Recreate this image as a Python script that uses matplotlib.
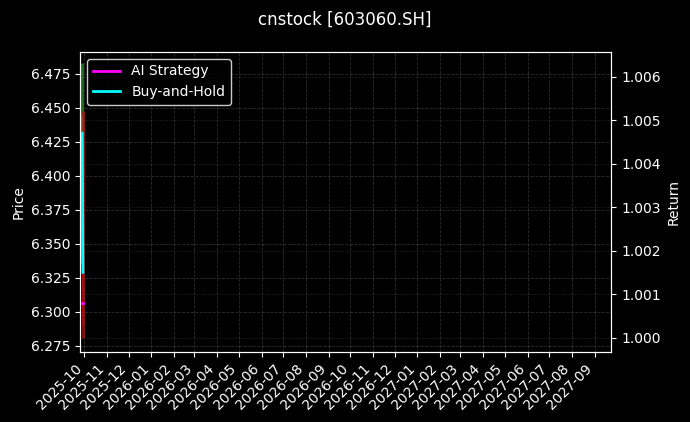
import matplotlib
matplotlib.use('Agg')
import matplotlib.pyplot as plt
import matplotlib.dates as mdates
import pandas as pd

plt.style.use('dark_background')

# Daily bars for the two sessions shown
dates = pd.to_datetime(['2025-09-28', '2025-09-29'])
opens = [6.34, 6.44]
highs = [6.483, 6.448]
lows = [6.335, 6.281]
closes = [6.445, 6.29]

# Cumulative returns (right axis)
ai_strategy = [1.0008, 1.0008]
buy_hold = [1.0047, 1.0015]

fig, ax = plt.subplots(figsize=(6.9, 4.22), dpi=100)
fig.subplots_adjust(left=0.116, right=0.886, top=0.877, bottom=0.166)

x = mdates.date2num(dates)
for xi, o, h, l, c in zip(x, opens, highs, lows, closes):
    color = '#2aa02a' if c >= o else '#c01010'
    ax.vlines(xi, l, h, color=color, linewidth=2, alpha=0.7)
    ax.bar(xi, abs(c - o), bottom=min(o, c), width=2.5, color=color, alpha=0.6)

ax.set_ylabel('Price')
ax.set_ylim(6.2706, 6.4912)
ax.set_xlim(mdates.date2num(pd.Timestamp('2025-09-25')),
            mdates.date2num(pd.Timestamp('2027-09-24')))
ax.xaxis.set_major_locator(mdates.MonthLocator())
ax.xaxis.set_major_formatter(mdates.DateFormatter('%Y-%m'))
plt.setp(ax.get_xticklabels(), rotation=45, ha='right')
ax.grid(True, linestyle='--', color='gray', alpha=0.35, linewidth=0.6)

ax2 = ax.twinx()
ax2.plot(dates, ai_strategy, color='magenta', linewidth=2, label='AI Strategy')
ax2.plot(dates, buy_hold, color='cyan', linewidth=2, label='Buy-and-Hold')
ax2.set_ylabel('Return')
ax2.set_ylim(0.99967, 1.00657)
ax2.grid(True, linestyle=':', color='gray', alpha=0.35, linewidth=0.6)
ax2.legend(loc='upper left', facecolor='black', edgecolor='white')

fig.suptitle('cnstock [603060.SH]', fontsize=12, y=0.975)

plt.savefig('out.png', dpi=100)
